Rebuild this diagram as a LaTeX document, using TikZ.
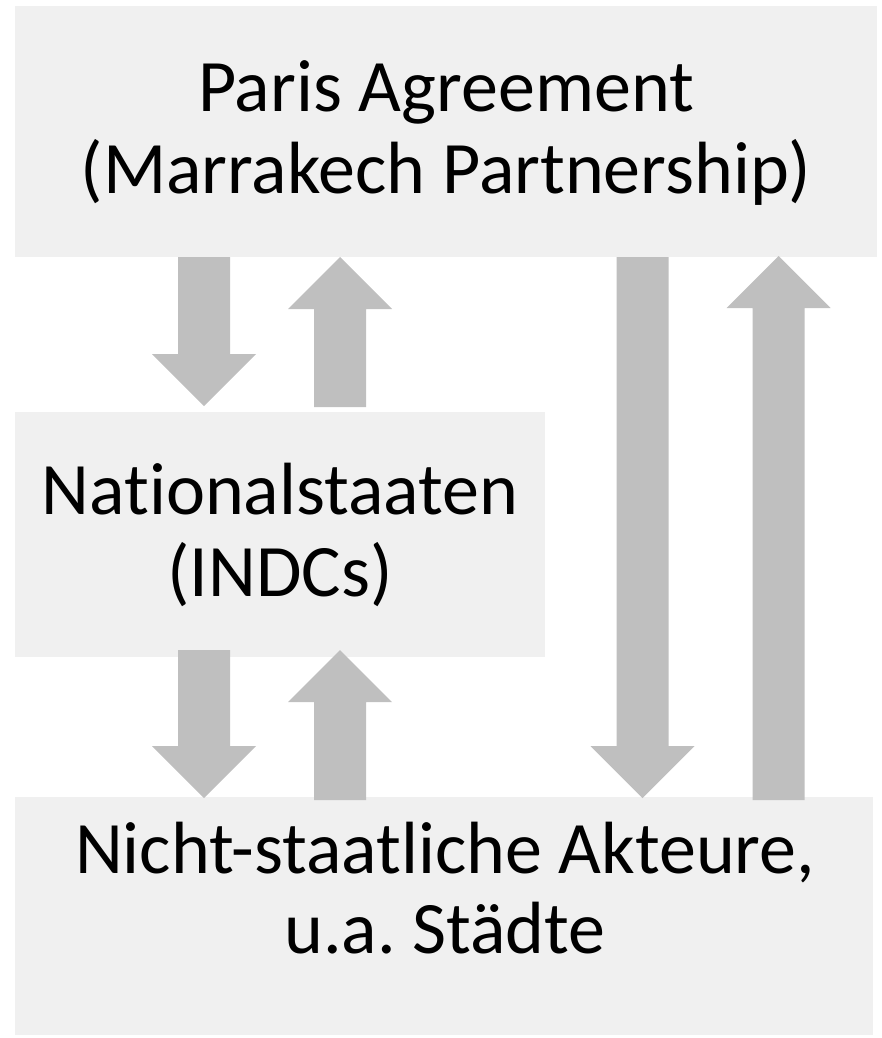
\documentclass[tikz,border=0pt]{standalone}
\usepackage{fontspec}
\setmainfont{Carlito}[Ligatures={NoCommon}]
\frenchspacing
\definecolor{boxfill}{HTML}{F0F0F0}
\definecolor{arrowfill}{HTML}{BFBFBF}
\tikzset{
  box/.style={fill=boxfill, draw=none, inner sep=0pt},
  blockarrow/.style={fill=arrowfill, draw=none},
  lbl/.style={anchor=base, inner sep=0pt, font=\fontsize{74}{88}\selectfont}
}
% down arrow: center x, top y, tip y (y grows downward)
\newcommand{\myDownArrow}[3]{%
  \fill[blockarrow] (#1-26,#2) -- (#1+26,#2) -- (#1+26,#3-52) -- (#1+52,#3-52) -- (#1,#3) -- (#1-52,#3-52) -- (#1-26,#3-52) -- cycle;}
% up arrow: center x, bottom y, tip y
\newcommand{\myUpArrow}[3]{%
  \fill[blockarrow] (#1-26,#2) -- (#1+26,#2) -- (#1+26,#3+52) -- (#1+52,#3+52) -- (#1,#3) -- (#1-52,#3+52) -- (#1-26,#3+52) -- cycle;}
\begin{document}
\begin{tikzpicture}[x=1pt,y=-1pt]
\useasboundingbox (0,0) rectangle (881,1038);
% boxes
\fill[box] (15,6) rectangle (877,257) coordinate (paris);
\fill[box] (15,412) rectangle (545,657) coordinate (nat);
\fill[box] (15,797) rectangle (873,1035) coordinate (nsa);
% texts
\node[lbl] (p1) at (446,112) {Paris Agreement};
\node[lbl] (p2) at (446,193) {(Marrakech Partnership)};
\node[lbl] (n1) at (280,514) {Nationalstaaten};
\node[lbl] (n2) at (280,596) {(INDCs)};
\node[lbl] (s1) at (445,873) {Nicht-staatliche Akteure,};
\node[lbl] (s2) at (445,953) {u.a. Städte};
% arrows
\myDownArrow{204}{257}{406}
\myUpArrow{340}{407}{257}
\myDownArrow{204}{650}{798}
\myUpArrow{340}{800}{650}
\myDownArrow{642.5}{257}{798}
\myUpArrow{778.5}{800}{256}
\end{tikzpicture}
\end{document}
